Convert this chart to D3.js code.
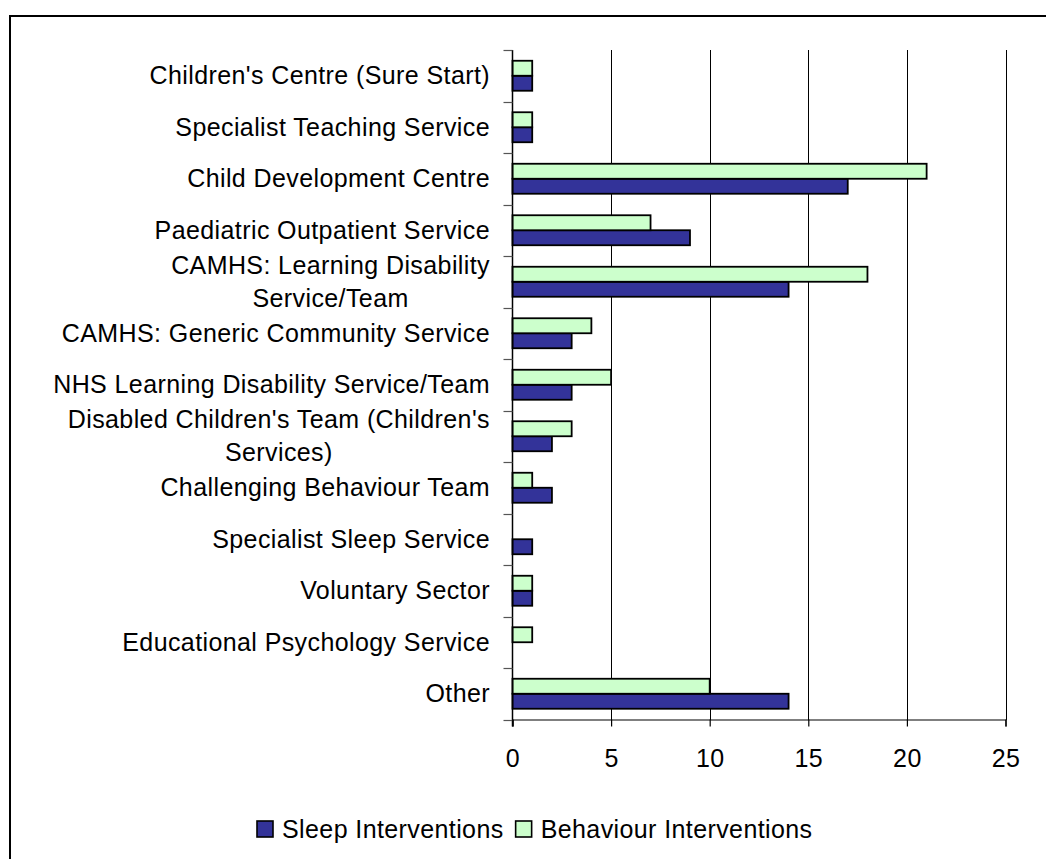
<!DOCTYPE html>
<html>
<head>
<meta charset="utf-8">
<script src="https://cdn.jsdelivr.net/npm/d3@7"></script>
<style>
  html, body { margin: 0; padding: 0; background: #fff; }
  svg { display: block; }
  text { font-family: "Liberation Sans", Arial, sans-serif; fill: #000; }
</style>
</head>
<body>
<svg id="chart" width="1046" height="859"></svg>
<script>
const categories = [
  ["Children's Centre (Sure Start)"],
  ["Specialist Teaching Service"],
  ["Child Development Centre"],
  ["Paediatric Outpatient Service"],
  ["CAMHS: Learning Disability", "Service/Team"],
  ["CAMHS: Generic Community Service"],
  ["NHS Learning Disability Service/Team"],
  ["Disabled Children's Team (Children's", "Services)"],
  ["Challenging Behaviour Team"],
  ["Specialist Sleep Service"],
  ["Voluntary Sector"],
  ["Educational Psychology Service"],
  ["Other"]
];
const sleepValues     = [1, 1, 17, 9, 14, 3, 3, 2, 2, 1, 1, 0, 14];
const behaviourValues = [1, 1, 21, 7, 18, 4, 5, 3, 1, 0, 1, 1, 10];
const seriesNames = ["Sleep Interventions", "Behaviour Interventions"];
const seriesColors = ["#333399", "#CCFFCC"];
const xTicks = [0, 5, 10, 15, 20, 25];

const svg = d3.select("#chart");
const FONT = 25;
const LS = "0.4px";

// outer chart border (extends past the window on right and bottom)
svg.append("rect")
  .attr("x", 10).attr("y", 16)
  .attr("width", 1200).attr("height", 1000)
  .attr("fill", "none").attr("stroke", "#000").attr("stroke-width", 2);

const plotLeft = 512.5, plotRight = 1005.5, plotTop = 50, plotBottom = 719.5;

const x = d3.scaleLinear().domain([0, 25]).range([plotLeft, plotRight]);
const keys = categories.map((c, i) => i);
const y = d3.scaleBand().domain(keys).range([plotTop, plotBottom]).padding(0);
const inner = d3.scaleBand().domain([1, 0]) // behaviour on top, sleep below
  .range([0, y.bandwidth()]).paddingInner(0).paddingOuter(0.717);

// vertical gridlines
svg.append("g").selectAll("line")
  .data(xTicks.filter(t => t > 0))
  .join("line")
  .attr("x1", d => Math.round(x(d)) + 0.5).attr("x2", d => Math.round(x(d)) + 0.5)
  .attr("y1", plotTop).attr("y2", plotBottom)
  .attr("stroke", "#000").attr("stroke-width", 1)
  .attr("shape-rendering", "crispEdges");

// bars
const rows = keys.map(i => ({ i, vals: [sleepValues[i], behaviourValues[i]] }));
const groups = svg.append("g").selectAll("g")
  .data(rows).join("g")
  .attr("transform", d => `translate(0,${y(d.i)})`);
groups.selectAll("rect")
  .data(d => d.vals.map((v, s) => ({ v, s })).filter(e => e.v > 0))
  .join("rect")
  .attr("x", x(0))
  .attr("y", e => inner(e.s))
  .attr("width", e => x(e.v) - x(0))
  .attr("height", inner.bandwidth())
  .attr("fill", e => seriesColors[e.s])
  .attr("stroke", "#000").attr("stroke-width", 1.8);

// left axis line + ticks at band boundaries
svg.append("line")
  .attr("x1", plotLeft).attr("x2", plotLeft)
  .attr("y1", plotTop).attr("y2", plotBottom + 7)
  .attr("stroke", "#000").attr("stroke-width", 1.5);
const boundaries = keys.map(i => y(i)).concat([plotBottom]);
svg.append("g").selectAll("line")
  .data(boundaries).join("line")
  .attr("x1", plotLeft - 9).attr("x2", plotLeft)
  .attr("y1", d => Math.round(d) + 0.5).attr("y2", d => Math.round(d) + 0.5)
  .attr("stroke", "#555").attr("stroke-width", 1.2);

// bottom axis
const xAxis = d3.axisBottom(x).tickValues(xTicks).tickSize(7).tickPadding(23);
const gx = svg.append("g").attr("transform", `translate(0,${plotBottom})`).call(xAxis);
gx.select(".domain").attr("stroke", "#000").attr("stroke-width", 1.2);
gx.selectAll(".tick line").attr("stroke", "#000").attr("stroke-width", 1.2);
gx.selectAll(".tick text")
  .attr("font-size", FONT).attr("font-family", "Liberation Sans, Arial, sans-serif")
  .attr("letter-spacing", LS)
  .attr("fill", "#000").attr("dy", "0.71em");

// category labels
const labelRight = 490;
const lineGap = 33;
keys.forEach(i => {
  const lines = categories[i];
  const cy = y(i) + y.bandwidth() / 2;
  const g = svg.append("g");
  const texts = lines.map((ln, k) => g.append("text")
    .attr("font-size", FONT)
    .attr("letter-spacing", LS)
    .attr("y", cy + (k - (lines.length - 1) / 2) * lineGap)
    .attr("dy", "0.33em")
    .text(ln));
  const widths = texts.map(t => t.node().getComputedTextLength());
  const maxW = d3.max(widths);
  texts.forEach(t => t.attr("text-anchor", "middle").attr("x", labelRight - maxW / 2));
});

// legend
const legend = svg.append("g");
let lx = 257;
const ly = 829;
seriesNames.forEach((name, s) => {
  legend.append("rect")
    .attr("x", lx).attr("y", ly - 8).attr("width", 16).attr("height", 16)
    .attr("fill", seriesColors[s]).attr("stroke", "#000").attr("stroke-width", 1.6);
  const t = legend.append("text")
    .attr("x", lx + 25).attr("y", ly).attr("dy", "0.35em")
    .attr("letter-spacing", LS)
    .attr("font-size", FONT).text(name);
  lx += 25 + t.node().getComputedTextLength() + 12;
});
</script>
</body>
</html>
